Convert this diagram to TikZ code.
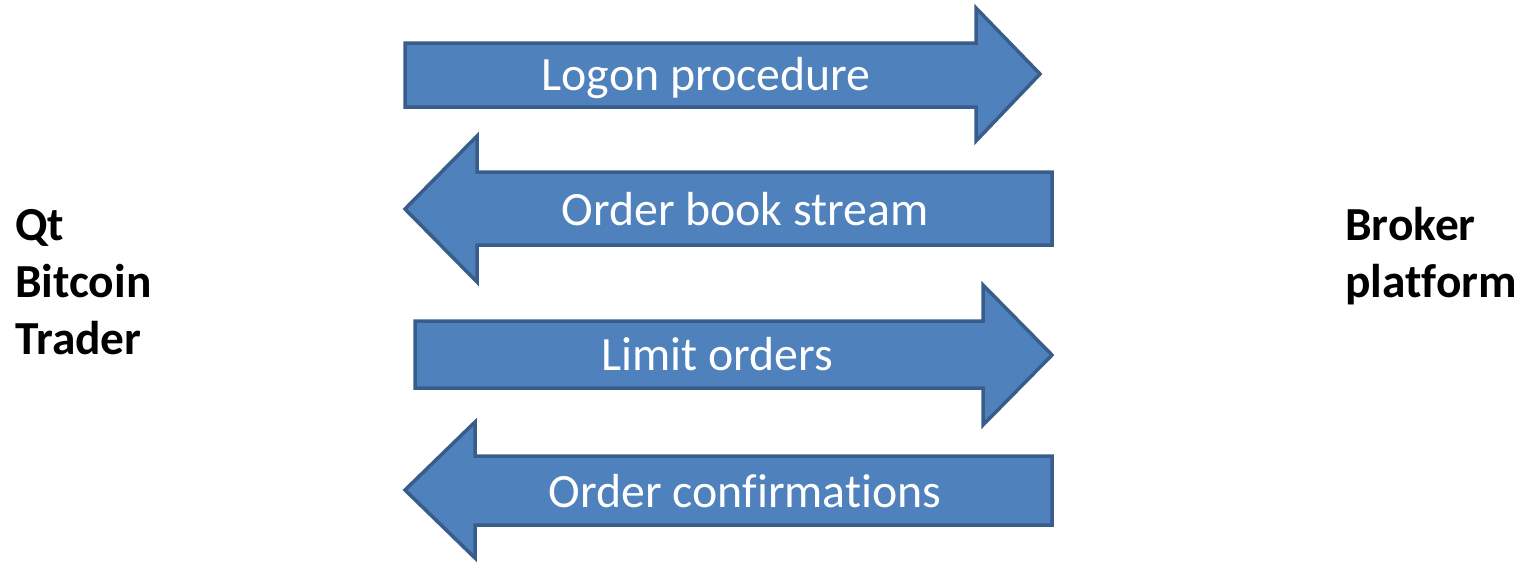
\documentclass[tikz,border=0pt]{standalone}
\usepackage{fontspec}
\setmainfont{Carlito}[Ligatures=NoCommon]
\usetikzlibrary{positioning}

\definecolor{arrowfill}{HTML}{4F81BD}
\definecolor{arrowline}{HTML}{385D8A}

\tikzset{
  flow/.style={fill=arrowfill, draw=arrowline, line width=3.5pt, line join=miter},
  flowtext/.style={text=white, font=\fontsize{47.8}{55}\selectfont, anchor=base, inner sep=0pt},
  party/.style={font=\fontsize{47.4}{57}\selectfont\bfseries, align=left, anchor=base west, inner sep=0pt}
}

\begin{document}
\begin{tikzpicture}[x=1pt,y=-1pt]
    \useasboundingbox (0,0) rectangle (1521,562);

    % Define arrows
    \draw[flow] (405,43) -- (976,43) -- (976,8) -- (1040,74) -- (976,141) -- (976,107) -- (405,107) -- cycle;
    \draw[flow] (1052,172) -- (477,172) -- (477,136) -- (405,209) -- (477,282) -- (477,245) -- (1052,245) -- cycle;
    \draw[flow] (415,321) -- (983,321) -- (983,285) -- (1052,355) -- (983,425) -- (983,388) -- (415,388) -- cycle;
    \draw[flow] (1052,456) -- (475,456) -- (475,422) -- (405,490) -- (475,558) -- (475,525) -- (1052,525) -- cycle;

    % Arrow labels
    \node[flowtext] (logon)   at (706,90)  {Logon procedure};
    \node[flowtext] (book)    at (745,225) {Order book stream};
    \node[flowtext] (limit)   at (717,370) {Limit orders};
    \node[flowtext] (confirm) at (745,507) {Order confirmations};

    % Parties
    \node[party] (trader) at (15,354) {Qt\\Bitcoin\\Trader};
    \node[party] (broker) at (1345,297) {Broker\\platform};
\end{tikzpicture}
\end{document}
